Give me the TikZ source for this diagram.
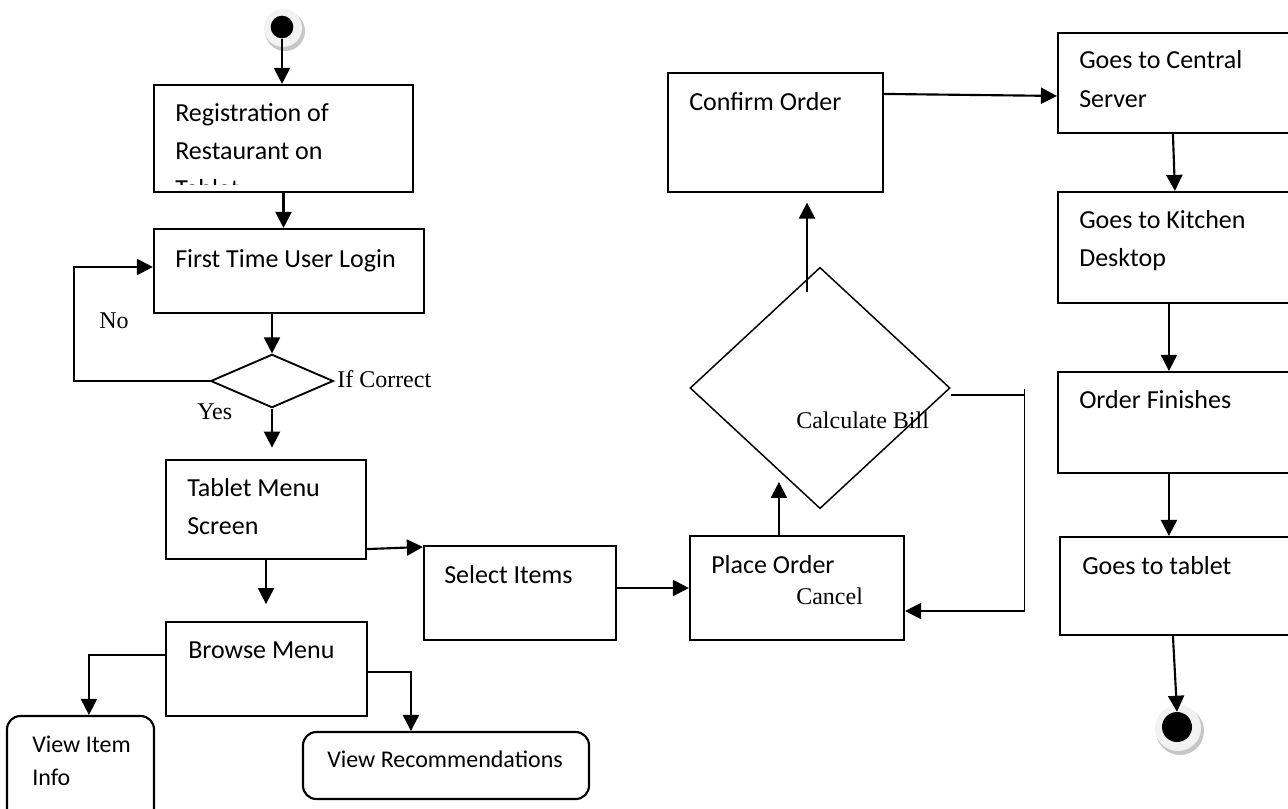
\documentclass[tikz,border=0pt]{standalone}
\usepackage{fontspec}
\setmainfont{Carlito}
\newfontfamily\tmsfont{Liberation Serif}
\usetikzlibrary{arrows.meta,shapes.geometric,fit,calc}
\tikzset{
  box/.style={draw, line width=1.6pt, inner sep=0pt},
  rbox/.style={box, rounded corners=10pt},
  txt/.style={anchor=base west, inner sep=0pt, font=\fontsize{19.5}{28}\selectfont},
  stxt/.style={txt, font=\fontsize{18}{24}\selectfont},
  ttxt/.style={anchor=base west, inner sep=0pt, font=\tmsfont\fontsize{18}{22}\selectfont},
  arr/.style={line width=1.6pt, -{Triangle[length=12pt,width=12pt]}},
  tarr/.style={line width=1.1pt, -{Triangle[length=12pt,width=12pt]}},
}
\begin{document}
\begin{tikzpicture}[x=0.75pt,y=0.75pt,yscale=-1,xscale=1]
\useasboundingbox (0,0) rectangle (1288,808);
\begin{scope}
\clip (0,0) rectangle (1288,808);

%Shape: Start circle
\fill[gray!45] (285,31) circle [radius=20];
\fill[gray!10] (283,28) circle [radius=19];
\node[circle, fill=black, minimum size=17pt, inner sep=0pt] (start) at (282,27) {};
%Shape: End circle
\fill[gray!45] (1180,731) circle [radius=24];
\fill[gray!10] (1178,728) circle [radius=23];
\node[circle, fill=black, minimum size=22.5pt, inner sep=0pt] (stop) at (1177,727) {};

%Shape: Rectangle
\node[box, fit={(154,85) (413,192)}] (reg) {};
\node[box, fit={(154,229) (424,313)}] (login) {};
\node[box, fit={(166,460) (366,559)}] (tablet) {};
\node[box, fit={(166,622) (367,716)}] (browse) {};
\node[rbox, fit={(7,716) (154,840)}] (info) {};
\node[rbox, fit={(303,732) (589,799)}] (recom) {};
\node[box, fit={(424,546) (616,640)}] (select) {};
\node[box, fit={(690,536) (904,640)}] (place) {};
\node[box, fit={(668,73) (883,192)}] (confirm) {};
\node[box, fit={(1058,33) (1310,133)}] (central) {};
\node[box, fit={(1058,192) (1310,303)}] (kitchen) {};
\node[box, fit={(1058,372) (1310,473)}] (finish) {};
\node[box, fit={(1060,537) (1310,635)}] (back) {};
%Shape: Diamond
\node[draw, diamond, line width=1.4pt, minimum width=92pt, minimum height=40pt, inner sep=0pt] (check) at (272,381) {};
\node[draw, diamond, line width=1.1pt, minimum width=195pt, minimum height=181pt, inner sep=0pt] (bill) at (820,388) {};

%Straight Lines
\draw[arr] (start) -- (start |- reg.north);
\draw[arr] (reg.south) -- (reg.south |- login.north);
\draw[arr] (check.north |- login.south) -- (check.north);
\draw[arr] (check.west) -- ($(check.west)+(-136,0)$) |- ($(login.west)+(0,-4)$);
\draw[arr] (check.south) -- ++(0,39);
\draw[arr] (tablet.south) -- ++(0,44);
\draw[arr] ($(tablet.south east)+(0,-11)$) -- ($(select.north west)+(0,2)$);
\draw[arr] ($(browse.north west)+(0,34)$) -| ($(info.north west)+(83,0)$);
\draw[arr] ($(browse.north east)+(0,51)$) -| ($(recom.north west)+(109,0)$);
\draw[arr] (select.east |- place.west) -- (place.west);
\draw[arr] ($(place.north west)+(90,0)$) -- ++(0,-53);
\draw[arr] ($(bill.north)+(-13,25)$) -- ++(0,-89);
\draw[line width=1.1pt] ($(bill.east)+(0,7)$) -- ++(74,0);
\draw[tarr] ($(bill.east)+(74,1)$) |- ($(place.east)+(0,23)$);
\draw[arr] ($(confirm.north east)+(0,22)$) -- ($(central.north west)+(0,64)$);
\draw[arr] ($(central.south west)+(116,0)$) -- ($(kitchen.north west)+(118,0)$);
\draw[arr] ($(kitchen.south west)+(112,0)$) -- ($(finish.north west)+(112,0)$);
\draw[arr] ($(finish.south west)+(112,0)$) -- ($(back.north west)+(110,0)$);
\draw[arr] ($(back.south west)+(114,0)$) -- (stop.north);

% Text Node
\node[txt] (reg1) at (175,121) {Registration of};
\node[txt] (reg2) at (175,159) {Restaurant on};
\begin{scope}
\clip (154,85) rectangle (413,184);
\node[txt] (reg3) at (175,197) {Tablet};
\end{scope}
% Text Node
\node[txt] (login1) at (175,267) {First Time User Login};
\node[ttxt] (no) at (99,328) {No};
\node[ttxt] (ifc) at (337,387) {If Correct};
\node[ttxt] (yes) at (197,419) {Yes};
% Text Node
\node[txt] (tab1) at (187,496) {Tablet Menu};
\node[txt] (tab2) at (187,534) {Screen};
\node[txt] (brw) at (188,658) {Browse Menu};
\node[stxt] (info1) at (32,752) {View Item};
\node[stxt] (info2) at (32,785) {Info};
\node[stxt] (rec) at (327,767) {View Recommendations};
\node[txt] (sel) at (444,583) {Select Items};
% Text Node
\node[txt] (plc) at (711,573) {Place Order};
\node[ttxt] (cancel) at (796,604) {Cancel};
\node[ttxt] (calc) at (796,428) {Calculate Bill};
\node[txt] (cnf) at (689,110) {Confirm Order};
% Text Node
\node[txt] (cen1) at (1079,68) {Goes to Central};
\node[txt] (cen2) at (1079,107) {Server};
\node[txt] (kit1) at (1079,228) {Goes to Kitchen};
\node[txt] (kit2) at (1079,266) {Desktop};
\node[txt] (fin) at (1079,408) {Order Finishes};
\node[txt] (gtt) at (1082,574) {Goes to tablet};
\end{scope}
\end{tikzpicture}
\end{document}
